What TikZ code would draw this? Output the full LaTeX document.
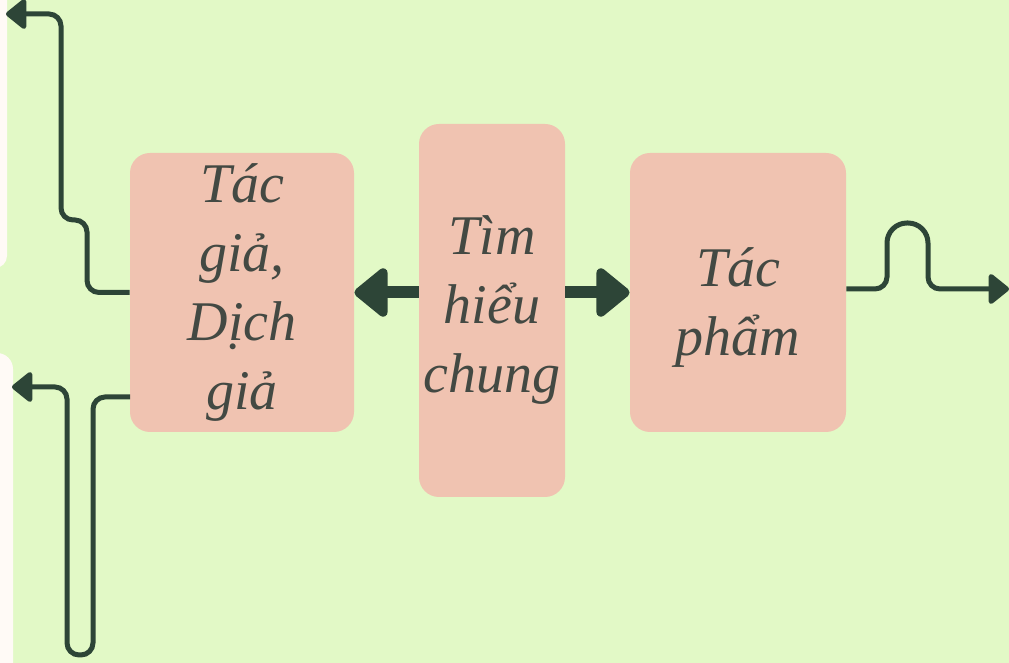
\documentclass[tikz,border=0pt]{standalone}
\usepackage{fontspec}
\setmainfont{Liberation Serif}
\usetikzlibrary{arrows.meta}

\definecolor{bggreen}{HTML}{E2F9C6}
\definecolor{paper}{HTML}{FFFAF6}
\definecolor{boxsalmon}{HTML}{F0C3B1}
\definecolor{wiredark}{HTML}{2D4537}
\definecolor{inkgray}{HTML}{434943}

\begin{document}
\begin{tikzpicture}[x=0.5pt,y=-0.5pt,
topicbox/.style={fill=boxsalmon,rounded corners=10pt,inner sep=0pt,align=center,
  text=inkgray,font=\fontsize{28}{34.5}\selectfont\itshape},
bigarrow/.style={draw=wiredark,line width=6pt,-{Triangle[length=18pt,width=28pt,round]}},
wire/.style={draw=wiredark,line width=2.5pt,rounded corners=6pt,-{Triangle[length=11pt,width=17pt,round]}}]

% background
\useasboundingbox (0,0) rectangle (1009,663);
\fill[bggreen] (0,0) rectangle (1009,663);
\fill[paper,rounded corners=6pt] (-30,-30) rectangle (7,268);
\fill[paper,rounded corners=8pt] (-30,353) rectangle (13,700);

% boxes
\node[topicbox,minimum width=112pt,minimum height=139.5pt] (author) at (242,292.5) {Tác\\giả,\\Dịch\\giả};
\node[topicbox,minimum width=73pt,minimum height=186.5pt] (intro) at (492,310.5) {Tìm\\hiểu\\chung};
\node[topicbox,minimum width=108pt,minimum height=139.5pt] (work) at (738,292.5) {\rule{0pt}{34pt}Tác\\phẩm};

\draw[bigarrow] (intro.west |- author.east) -- (author.east);
\draw[bigarrow] (intro.east |- work.west) -- (work.west);

% loose ends
\coordinate (outtop) at (6,14);
\coordinate (authorlow) at (130,397);
\coordinate (outlow) at (12,387);
\coordinate (outright) at (1009,289);

\draw[wire] (author.west) -- (87,292.5) -- (87,220) -- (61,220) -- (61,14) -- (outtop);
\draw[wire] (authorlow) -- (93,397) -- (93,655) -- (67,655) -- (67,387) -- (outlow);
\draw[wire] (work.east |- outright) -- (887,289) [rounded corners=10pt] -- (887,223) -- (928,223) [rounded corners=6pt] -- (928,289) -- (outright);
\end{tikzpicture}
\end{document}
